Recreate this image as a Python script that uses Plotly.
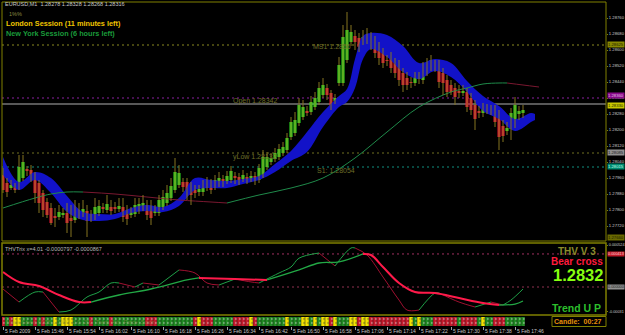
import numpy as np
import plotly.graph_objects as go

W, H = 625, 335
PT = 1e-5  # MT4 point size

# ---------------- main chart data (EURUSD M1, prices in points) ----------------
open_pts = [127975,127935,127910,127920,127910,127960,128005,128000,127975,127935,
            127885,127840,127810,127770,127765,127775,127785,127760,127750,127770,
            127780,127795,127775,127765,127785,127815,127800,127815,127815,127805,
            127815,127795,127775,127780,127795,127810,127825,127815,127785,127785,
            127815,127835,127860,127900,127925,127940,127940,127915,127900,127890,
            127890,127910,127935,127915,127930,127955,127945,127950,127970,127965,
            127955,127965,127955,127970,127950,127975,128015,128040,128055,128065,
            128085,128100,128165,128185,128235,128265,128295,128290,128315,128340,
            128375,128410,128385,128345,128435,128435,128550,128640,128670,128660,
            128640,128650,128665,128650,128615,128590,128550,128565,128540,128515,
            128485,128460,128440,128435,128455,128450,128485,128510,128530,128525,
            128485,128450,128425,128410,128395,128385,128390,128360,128325,128295,
            128285,128295,128305,128300,128275,128220,128195,128205,128240,128280,
            128285]
close_pts = [127900,127890,127925,127900,128015,128040,127995,127955,127885,127835,
             127800,127775,127735,127760,127790,127785,127735,127745,127800,127795,
             127805,127745,127765,127815,127820,127805,127830,127795,127805,127820,
             127765,127755,127790,127825,127830,127835,127775,127760,127795,127850,
             127865,127885,127920,127990,127985,127915,127875,127875,127885,127905,
             127925,127940,127900,127950,127960,127935,127970,127995,127960,127950,
             127975,127950,127970,127950,128010,128065,128065,128060,128085,128105,
             128115,128160,128240,128250,128325,128315,128285,128340,128360,128410,
             128425,128375,128320,128360,128525,128665,128700,128690,128640,128615,
             128665,128675,128625,128585,128560,128535,128545,128510,128485,128450,
             128425,128425,128435,128465,128460,128510,128535,128550,128510,128440,
             128435,128390,128390,128365,128385,128395,128315,128300,128255,128285,
             128310,128305,128295,128240,128165,128170,128210,128285,128325,128295,
             128300]
high_pts = [128010,127960,127950,127935,128075,128075,128020,128025,127990,127950,
            127900,127860,127835,127810,127825,127810,127835,127825,127850,127835,
            127850,127825,127800,127860,127850,127835,127875,127850,127840,127860,
            127860,127825,127815,127860,127860,127875,127850,127850,127825,127875,
            127900,127925,127960,128060,128025,127960,127960,127940,127925,127925,
            127950,127965,127955,127975,127990,127975,127995,128020,127990,127985,
            128000,127985,127995,127990,128030,128100,128090,128085,128110,128130,
            128140,128185,128265,128290,128360,128350,128320,128370,128390,128440,
            128460,128430,128400,128380,128565,128725,128790,128725,128700,128685,
            128700,128710,128690,128670,128640,128610,128575,128590,128560,128550,
            128510,128490,128465,128490,128490,128540,128560,128575,128550,128550,
            128510,128475,128450,128435,128425,128425,128410,128385,128350,128320,
            128335,128330,128325,128325,128300,128250,128240,128310,128365,128320,
            128325]
low_pts = [127885,127865,127900,127885,127900,127945,127970,127940,127835,127785,
           127765,127760,127725,127715,127750,127760,127685,127665,127735,127755,
           127765,127665,127740,127750,127770,127785,127785,127775,127785,127790,
           127740,127725,127760,127765,127780,127795,127750,127725,127770,127770,
           127800,127820,127845,127885,127910,127890,127850,127825,127860,127870,
           127870,127895,127880,127900,127915,127915,127930,127935,127930,127925,
           127940,127930,127940,127925,127935,127960,128000,128025,128040,128050,
           128070,128085,128150,128170,128220,128250,128270,128275,128300,128325,
           128360,128350,128300,128330,128420,128420,128535,128620,128600,128590,
           128625,128630,128600,128560,128525,128510,128520,128485,128460,128420,
           128390,128400,128410,128420,128430,128430,128470,128495,128490,128410,
           128375,128365,128375,128325,128360,128370,128290,128275,128200,128260,
           128265,128280,128275,128215,128100,128140,128175,128150,128210,128250,
           128260]

# blue band (upper / lower edges)
band_idx = [0,4,8,12,16,20,24,28,32,36,40,44,48,52,56,60,64,68,72,76,80,
            84,86,88,90,92,96,100,104,108,112,116,120,124,128,132,133]
band_top_pts = [128065,127940,127990,127960,127870,127790,127780,127780,127810,127825,
                127815,127860,127960,127950,127945,127955,127970,128030,128095,128190,
                128290,128370,128405,128555,128670,128685,128675,128620,128535,128555,
                128535,128445,128370,128320,128255,128285,128280]
band_bot_pts = [127975,127900,127950,127885,127790,127750,127745,127755,127785,127795,
                127790,127820,127900,127910,127910,127930,127950,127990,128045,128090,
                128215,128315,128340,128410,128555,128605,128565,128490,128455,128495,
                128465,128390,128295,128255,128195,128240,128250]

# moving average
ma_idx = [0,8,12,16,20,28,36,44,52,56,64,72,80,88,96,104,112,116,120,124,126,130,134]
ma_pts = [127810,127860,127880,127890,127890,127880,127865,127850,127840,127835,
          127875,127910,127960,128060,128190,128315,128390,128410,128430,128435,
          128435,128425,128415]

# horizontal levels
lvl_ms1, lvl_purple, lvl_bid = 128625, 128360, 128330
lvl_ylow, lvl_s1, lvl_bottom = 128085, 128015, 127660
main_ticks_pts = list(range(127720, 128761, 80))

# ---------------- oscillator (THVTrix), values in 1e-4 ----------------
slow_idx = [0,4,9,14,19,22,29,37,46,49,58,66,74,79,84,90,92,95,99,103,108,114,120,124,128,130]
slow_val = [1.88,0.63,0.13,-1.0,-1.88,-1.88,-1.0,-0.25,0.88,1.13,1.0,0.88,2.13,3.0,3.13,
            4.13,4.0,2.5,0.5,-0.63,-0.75,-1.38,-2.0,-2.25,-2.13,-1.75]
fast_idx = [0,4,8,10,14,17,21,24,27,29,33,35,39,44,48,51,54,58,62,64,69,72,74,79,83,
            87,88,91,95,99,101,104,108,109,114,118,122,125,127,130]
fast_val = [-0.25,-1.88,-0.63,-0.63,-3.13,-2.88,-1.25,-0.63,0.5,0.5,0.0,0.5,0.25,2.13,
            1.75,0.5,0.25,1.0,0.63,0.5,1.75,2.5,3.6,4.25,2.63,4.88,4.88,4.0,1.25,-1.63,
            -2.88,-2.88,-0.75,-0.75,-1.88,-2.5,-1.88,-2.25,-1.63,-0.25]
osc_levels = [4.13, 0.0]

# colour strip (r = red, g = green, y = yellow), one cell per candle
strip_codes = ("rgryygggrg" "rggygyyygg" "ggrggggrgg" "ggggggrrrg" "ggggggggry"
               "rrrgggggrr" "rryrgggggg" "gygggyygyg" "yyrygggyyr" "yyrrrrrrrr"
               "rrygygggrr" "rrrrgrrrrg" "yggrrrggggg")

# time axis labels
tick_idx = list(range(0, 129, 8))
tick_text = ["5 Feb 2009", "5 Feb 15:46", "5 Feb 15:54", "5 Feb 16:02", "5 Feb 16:10",
             "5 Feb 16:18", "5 Feb 16:26", "5 Feb 16:34", "5 Feb 16:42", "5 Feb 16:50",
             "5 Feb 16:58", "5 Feb 17:06", "5 Feb 17:14", "5 Feb 17:22", "5 Feb 17:30",
             "5 Feb 17:38", "5 Feb 17:46"]

# ---------------- helpers ----------------
def px(x):
    return x / W

def py(y):
    return 1 - y / H

OLIVE = "#808000"
o = np.array(open_pts) * PT
c = np.array(close_pts) * PT
hi = np.array(high_pts) * PT
lo = np.array(low_pts) * PT
n = len(o)
idx = np.arange(n)

fig = go.Figure()

# blue band
fig.add_trace(go.Scatter(x=band_idx, y=np.array(band_bot_pts) * PT, mode="lines",
                         line=dict(width=0, color="#1010c8", shape="spline"), yaxis="y",
                         hoverinfo="skip"))
fig.add_trace(go.Scatter(x=band_idx, y=np.array(band_top_pts) * PT, mode="lines",
                         line=dict(width=0, color="#1010c8", shape="spline"), fill="tonexty",
                         fillcolor="#1212c8", yaxis="y", hoverinfo="skip"))


def direction_runs(xs, ys):
    ups = []
    last = True
    for k in range(1, len(ys)):
        d = ys[k] - ys[k - 1]
        if d != 0:
            last = d > 0
        ups.append(last)
    runs = []
    start = 0
    for k in range(1, len(ups)):
        if ups[k] != ups[k - 1]:
            runs.append((start, k, ups[k - 1]))
            start = k
    runs.append((start, len(ys) - 1, ups[-1]))
    return runs


# moving average coloured by slope
ma = np.array(ma_pts) * PT
for a, b, up in direction_runs(ma_idx, ma):
    fig.add_trace(go.Scatter(x=ma_idx[a:b + 1], y=ma[a:b + 1], mode="lines",
                             line=dict(width=1, color="#1f8a4a" if up else "#7a1830",
                                       shape="spline"),
                             yaxis="y", hoverinfo="skip"))

# wicks
wx, wy = [], []
for i in range(n):
    wx += [i, i, None]
    wy += [hi[i], lo[i], None]
fig.add_trace(go.Scatter(x=wx, y=wy, mode="lines", line=dict(width=1, color="#857420"),
                         yaxis="y", hoverinfo="skip"))
# bodies
body_col = ["#33ee22" if c[i] > o[i] else "#ee1535" for i in range(n)]
fig.add_trace(go.Bar(x=idx, y=np.abs(c - o), base=np.minimum(o, c), width=0.75,
                     marker=dict(color=body_col, line=dict(width=0)), yaxis="y",
                     hoverinfo="skip"))

# oscillator lines
sv = np.array(slow_val) * 1e-4
fv = np.array(fast_val) * 1e-4
for a, b, up in direction_runs(fast_idx, fv):
    fig.add_trace(go.Scatter(x=fast_idx[a:b + 1], y=fv[a:b + 1], mode="lines",
                             line=dict(width=1, color="#1fa048" if up else "#a01030",
                                       shape="spline"),
                             yaxis="y2", hoverinfo="skip"))
for a, b, up in direction_runs(slow_idx, sv):
    fig.add_trace(go.Scatter(x=slow_idx[a:b + 1], y=sv[a:b + 1], mode="lines",
                             line=dict(width=1.3 if up else 2,
                                       color="#22a845" if up else "#ff1a4a",
                                       shape="spline"),
                             yaxis="y2", hoverinfo="skip"))

# colour strip
cmap = {"r": "#c41a2c", "g": "#1f8a22", "y": "#f2e200"}
fig.add_trace(go.Bar(x=list(range(len(strip_codes))), y=[1] * len(strip_codes), base=0,
                     width=0.9, yaxis="y3", hoverinfo="skip",
                     marker=dict(color=[cmap[ch] for ch in strip_codes], line=dict(width=0),
                                 pattern=dict(shape=".", fgcolor="#000000", fgopacity=0.35,
                                              size=4, solidity=0.25))))

# ---------------- level lines ----------------
shapes = []


def hline(yref, val, color, dash="2px,3px", width=1):
    shapes.append(dict(type="line", xref="x domain", x0=0, x1=1, yref=yref,
                       y0=val, y1=val, line=dict(color=color, width=width, dash=dash),
                       layer="below"))


hline("y", lvl_ms1 * PT, "#8a8a20")
hline("y", lvl_purple * PT, "#8a20a0")
hline("y", lvl_bid * PT, "#b0b0b0", dash="solid")
hline("y", lvl_ylow * PT, "#707020")
hline("y", lvl_s1 * PT, "#109080")
hline("y2", osc_levels[0] * 1e-4, "#a03060")
hline("y2", osc_levels[1] * 1e-4, "#903050")

# frames
shapes.append(dict(type="rect", xref="paper", yref="paper", x0=px(2), x1=px(606),
                   y0=py(241), y1=py(2), line=dict(color=OLIVE, width=1)))
shapes.append(dict(type="rect", xref="paper", yref="paper", x0=px(2), x1=px(606),
                   y0=py(315), y1=py(243), line=dict(color=OLIVE, width=1.5)))
shapes.append(dict(type="rect", xref="paper", yref="paper", x0=px(552), x1=px(606),
                   y0=py(326.5), y1=py(316.5), line=dict(color=OLIVE, width=1),
                   fillcolor="#000000"))

ann = []
FONT = "Liberation Sans"


def text(x, y, s, size, color, bold=False, xanchor="left", xref="paper", yref="paper",
         **kw):
    ann.append(dict(x=x, y=y, xref=xref, yref=yref, text=f"<b>{s}</b>" if bold else s,
                    showarrow=False, xanchor=xanchor, yanchor="middle",
                    font=dict(family=FONT, size=size, color=color), **kw))


# header texts
text(px(3), py(4.5), "EURUSD,M1  1.28278 1.28328 1.28268 1.28316", 5.5, "#c8c8c8")
text(px(7), py(14), "1%%", 5.5, "#8a8a40")
text(px(4), py(24), "London Session (11 minutes left)", 7.3, "#f0c400", bold=True)
text(px(4), py(33.5), "New York Session (6 hours left)", 7.3, "#1a9a3a", bold=True)

# level labels on chart
text(77, lvl_ms1 * PT, "MS1 1.2856", 7, "#6e6e28", xref="x", yref="y", yshift=-2)
text(57, 1.28342, "Open 1.28342", 7, "#6e6e28", xref="x", yref="y", yshift=1)
text(57, lvl_ylow * PT, "yLow 1.28132", 7, "#6e6e28", xref="x", yref="y", yshift=-4)
text(78, lvl_s1 * PT, "S1: 1.28054", 7, "#6e6e28", xref="x", yref="y", yshift=-4)

# right axis price boxes
for val, bg, fg, ys in [(lvl_ms1, "#8a8a00", "#202000", 0), (lvl_purple, "#8a0a8a", "#e0c0e0", 2),
                        (lvl_bid, "#c8c800", "#202000", -2), (lvl_ylow, "#909090", "#202020", 0),
                        (lvl_s1, "#008a70", "#c0ffe8", 0), (lvl_bottom, "#6a6a00", "#202000", 0)]:
    ann.append(dict(x=px(607), y=val * PT, xref="paper", yref="y", text=f"{val * PT:.5f}",
                    showarrow=False, xanchor="left", yanchor="middle", bgcolor=bg,
                    borderpad=0, yshift=ys, font=dict(family=FONT, size=4.2, color=fg)))
for val, bg, fg in [(osc_levels[0], "#c01828", "#ffd0d0"), (osc_levels[1], "#909090", "#202020")]:
    ann.append(dict(x=px(607), y=val * 1e-4, xref="paper", yref="y2",
                    text=f"{val * 1e-4:.6f}", showarrow=False, xanchor="left",
                    yanchor="middle", bgcolor=bg, borderpad=0,
                    font=dict(family=FONT, size=3.8, color=fg)))

# oscillator panel texts
text(px(3), py(249), "THVTrix x=4.01 -0.0000797 -0.0000867", 5.5, "#b8b8b8")
text(px(598), py(251.5), "THV V 3", 10, "#8c8c2c", bold=True, xanchor="right")
text(px(605), py(261.5), "Bear cross", 10, "#ff1a3c", bold=True, xanchor="right")
text(px(605), py(275), "1.2832", 16.5, "#88ff10", bold=True, xanchor="right")
text(px(603), py(307.5), "Trend U P", 10.5, "#2cbf2c", bold=True, xanchor="right")
text(px(604), py(321.5), "Candle:  00:27", 7, "#e8900a", bold=True, xanchor="right")
text(px(4), py(321.5), "Mode Green 0008 1.0050 ·1·0· 200  Trend Adx  Force  Stoch", 5.5,
     "rgba(150,150,60,0.55)")

# time labels
for ti, tt in zip(tick_idx, tick_text):
    ann.append(dict(x=ti, y=py(330.5), xref="x", yref="paper", text=tt, showarrow=False,
                    xanchor="left", yanchor="middle", xshift=0,
                    font=dict(family=FONT, size=5, color="#c8c8c8")))

ymin = 1.2885 - 241 * 0.00005
ymax = 1.2885 - 2 * 0.00005

fig.update_layout(
    width=W, height=H, margin=dict(l=0, r=0, t=0, b=0),
    paper_bgcolor="#000000", plot_bgcolor="#000000",
    showlegend=False, barmode="overlay", hovermode=False,
    shapes=shapes, annotations=ann,
    xaxis=dict(domain=[px(2), px(606)], range=[-0.25, 150.75], anchor="y3",
               showgrid=False, zeroline=False, showline=False,
               tickvals=tick_idx, ticks="outside", ticklen=3, tickcolor="#a0a0a0",
               showticklabels=False, fixedrange=True),
    yaxis=dict(domain=[py(241), py(2)], range=[ymin, ymax], side="right", anchor="x",
               showgrid=False, zeroline=False, showline=False,
               tickvals=[v * PT for v in main_ticks_pts], tickformat=".5f",
               ticks="outside", ticklen=1, tickcolor=OLIVE, ticklabelstandoff=0,
               tickfont=dict(family=FONT, size=4.2, color="#c8c8c8"), automargin=False),
    yaxis2=dict(domain=[py(315), py(243)], range=[-3.5e-4, 5.5e-4], side="right",
                anchor="x", showgrid=False, zeroline=False, showline=False,
                tickvals=[5.24e-4, -3.1e-4], ticktext=["0.000524", "-0.00031"],
                ticks="outside", ticklen=1, tickcolor=OLIVE, ticklabelstandoff=0,
                tickfont=dict(family=FONT, size=3.8, color="#c8c8c8"), automargin=False),
    yaxis3=dict(domain=[py(326), py(317)], range=[0, 1], anchor="x", visible=False),
)

fig.write_html("out.html")
